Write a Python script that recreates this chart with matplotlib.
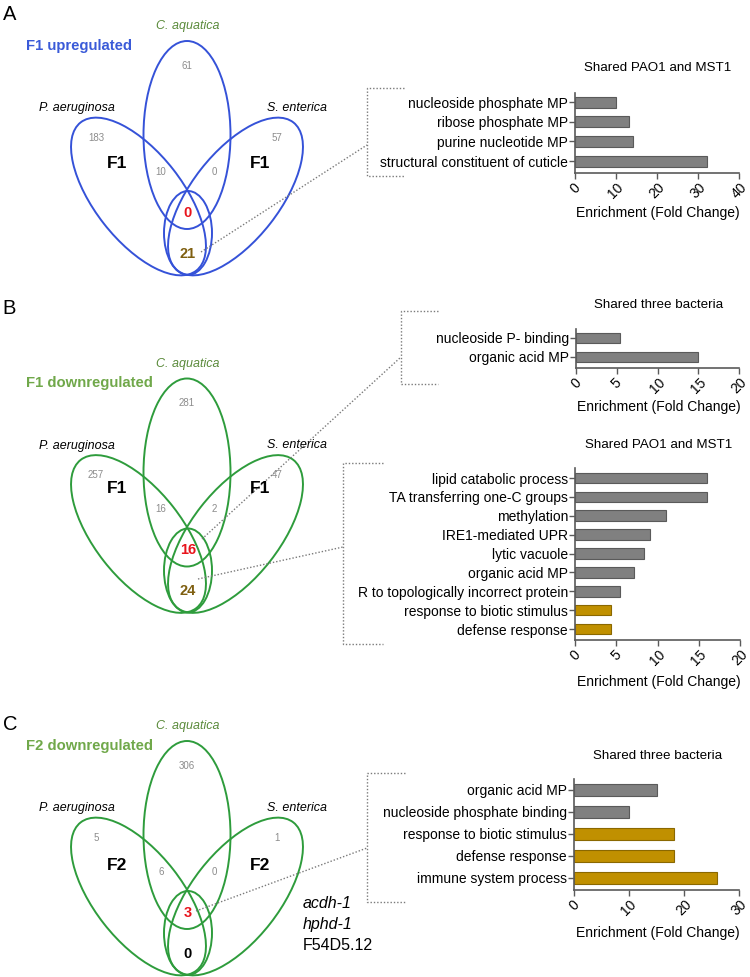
import numpy as np
import matplotlib.pyplot as plt
from matplotlib.patches import Ellipse

plt.rcParams['font.family'] = ['Liberation Sans', 'DejaVu Sans']

# ---- Venn data: [C.aq only, P.ae only, S.en only, P.ae&C.aq, C.aq&S.en, all three, P.ae&S.en]
venn_titles = ['F1 upregulated', 'F1 downregulated', 'F2 downregulated']
venn_groups = ['F1', 'F1', 'F2']
counts_a = [61, 183, 57, 10, 0, 0, 21]
counts_b = [281, 257, 47, 16, 2, 16, 24]
counts_c = [306, 5, 1, 6, 0, 3, 0]
genes_c = ['acdh-1', 'hphd-1', 'F54D5.12']

# ---- GO enrichment bars
terms_a = ['nucleoside phosphate MP', 'ribose phosphate MP', 'purine nucleotide MP',
           'structural constituent of cuticle']
vals_a = [9.9, 13.1, 14.1, 32.2]
immune_a = [False, False, False, False]

terms_b1 = ['nucleoside P- binding', 'organic acid MP']
vals_b1 = [5.4, 15.0]
immune_b1 = [False, False]

terms_b2 = ['lipid catabolic process', 'TA transferring one-C groups', 'methylation',
            'IRE1-mediated UPR', 'lytic vacuole', 'organic acid MP',
            'R to topologically incorrect protein', 'response to biotic stimulus',
            'defense response']
vals_b2 = [16.0, 16.0, 11.0, 9.1, 8.4, 7.2, 5.4, 4.4, 4.4]
immune_b2 = [False, False, False, False, False, False, False, True, True]

terms_c = ['organic acid MP', 'nucleoside phosphate binding', 'response to biotic stimulus',
           'defense response', 'immune system process']
vals_c = [15.1, 10.0, 18.1, 18.1, 26.0]
immune_c = [False, False, True, True, True]

W, H = 750, 977
fig = plt.figure(figsize=(W / 100, H / 100), dpi=100)

# overlay axes in pixel coordinates for the Venn diagrams and connectors
ov = fig.add_axes([0, 0, 1, 1])
ov.set_xlim(0, W)
ov.set_ylim(H, 0)
ov.axis('off')

GREY_NUM = '#8c8c8c'
DOT = dict(color='#7a7a7a', lw=1.0, linestyle=(0, (1, 1.4)))


def draw_venn(cy, color, counts, title, tcolor, group, f_dy, bottom_color):
    cx = 187
    kw = dict(fill=False, edgecolor=color, lw=1.4)
    ov.add_patch(Ellipse((cx, cy), 87, 188, **kw))
    ov.add_patch(Ellipse((cx - 48.5, cy + 61.5), 188, 88, angle=52, **kw))
    ov.add_patch(Ellipse((cx + 48.5, cy + 61.5), 188, 88, angle=-52, **kw))
    ov.add_patch(Ellipse((cx + 1, cy + 98), 48, 84, **kw))

    ov.text(cx + 1, cy - 109, 'C. aquatica', style='italic', color='#5a8a3a',
            ha='center', va='center', fontsize=9)
    ov.text(26, cy - 89, title, color=tcolor, fontweight='bold', fontsize=10.7,
            ha='left', va='center')
    ov.text(77, cy - 27, 'P. aeruginosa', style='italic', ha='center', va='center', fontsize=9)
    ov.text(297, cy - 27, 'S. enterica', style='italic', ha='center', va='center', fontsize=9)

    small = dict(color=GREY_NUM, fontsize=7, ha='center', va='center')
    ov.text(cx, cy - 69, str(counts[0]), **small)
    ov.text(96, cy + 3, str(counts[1]), **small)
    ov.text(277, cy + 3, str(counts[2]), **small)
    ov.text(161, cy + 37, str(counts[3]), **small)
    ov.text(214, cy + 37, str(counts[4]), **small)

    big = dict(fontweight='bold', fontsize=12.5, ha='center', va='center')
    ov.text(117, cy + f_dy, group, **big)
    ov.text(260, cy + f_dy, group, **big)

    ov.text(cx + 1, cy + 78, str(counts[5]), color='#e8141c', fontweight='bold',
            fontsize=10.5, ha='center', va='center')
    ov.text(cx + 1, cy + 118.5, str(counts[6]), color=bottom_color, fontweight='bold',
            fontsize=10.5, ha='center', va='center')


def bracket(x, y0, y1, x1):
    ov.plot([x1, x, x, x1], [y0, y0, y1, y1], **DOT)


def bar_panel(box, terms, vals, immune, xmax, step, pads, title, title_y, label_y):
    l, t, r, b = box
    ax = fig.add_axes([l / W, 1 - b / H, (r - l) / W, (b - t) / H])
    y = np.arange(len(terms))
    cols = ['#c09000' if f else '#808080' for f in immune]
    edges = ['#8a6800' if f else '#5a5a5a' for f in immune]
    ax.barh(y, vals, height=0.56, color=cols, edgecolor=edges, lw=0.8)
    ax.set_xlim(0, xmax)
    ax.set_ylim(len(terms) - 1 + pads[1], -pads[0])
    ax.set_xticks(np.arange(0, xmax + 1, step))
    ax.set_yticks(y)
    ax.set_yticklabels(terms, fontsize=10)
    for lab in ax.get_xticklabels():
        lab.set_rotation(45)
        lab.set_ha('center')
        lab.set_fontsize(10)
    for s in ['top', 'right']:
        ax.spines[s].set_visible(False)
    for s in ['left', 'bottom']:
        ax.spines[s].set_color('#5a5a5a')
        ax.spines[s].set_linewidth(1.2)
    ax.tick_params(length=4, width=1, color='#5a5a5a', pad=1)
    ax.tick_params(axis='x', pad=1.5)
    ax.patch.set_alpha(0)
    cx = (l + r) / 2 + 1
    ov.text(cx, title_y, title, ha='center', va='center', fontsize=9.6)
    ov.text(cx, label_y, 'Enrichment (Fold Change)', ha='center', va='center', fontsize=10)
    return ax


# panel letters
ov.text(10, 14, 'A', fontsize=14.5, ha='center', va='center')
ov.text(9, 309, 'B', fontsize=14.5, ha='center', va='center')
ov.text(10, 725, 'C', fontsize=14.5, ha='center', va='center')

BLUE = '#3552d8'
GREEN = '#2e9c3c'
LGREEN = '#70a84a'

draw_venn(135, BLUE, counts_a, venn_titles[0], '#3a5ad8', venn_groups[0], 28, '#7f5f10')
draw_venn(472.5, GREEN, counts_b, venn_titles[1], LGREEN, venn_groups[1], 16, '#7f5f10')
draw_venn(835, GREEN, counts_c, venn_titles[2], LGREEN, venn_groups[2], 30, 'black')

# gene list for panel C
ov.text(303, 903, genes_c[0], style='italic', fontsize=11.5, ha='left', va='center')
ov.text(303, 925, genes_c[1], style='italic', fontsize=11.5, ha='left', va='center')
ov.text(303, 946, genes_c[2], fontsize=11.5, ha='left', va='center')

# connectors and brackets
ov.plot([201, 367], [252, 145], **DOT)
bracket(367, 88, 176, 404)
ov.plot([202, 401], [539, 357], **DOT)
bracket(401, 311, 384, 438)
ov.plot([198, 343], [579, 547], **DOT)
bracket(343, 463, 644, 383)
ov.plot([196, 367], [911, 848], **DOT)
bracket(367, 773, 902, 405)

bar_panel((575, 93, 739, 173), terms_a, vals_a, immune_a, 40, 10, (0.46, 0.6),
          'Shared PAO1 and MST1', 68, 213)
bar_panel((576, 329, 739, 368), terms_b1, vals_b1, immune_b1, 20, 5, (0.47, 0.58),
          'Shared three bacteria', 305, 407)
bar_panel((575, 468, 740, 640), terms_b2, vals_b2, immune_b2, 20, 5, (0.53, 0.58),
          'Shared PAO1 and MST1', 445, 682)
bar_panel((574, 779, 739, 890), terms_c, vals_c, immune_c, 30, 10, (0.5, 0.55),
          'Shared three bacteria', 756, 933)

fig.savefig('out.png', dpi=100)
